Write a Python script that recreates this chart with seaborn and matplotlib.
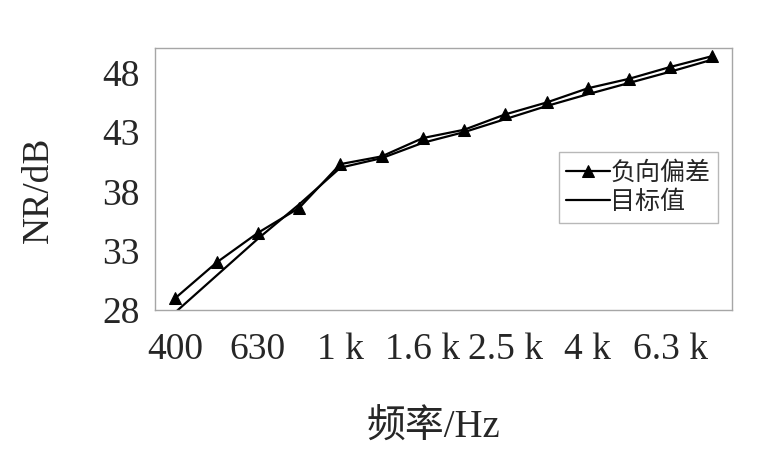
import numpy as np
import pandas as pd
import matplotlib
matplotlib.use('Agg')
import matplotlib.pyplot as plt
import seaborn as sns

# 1/3 octave bands, 400 Hz - 8 kHz
bands = ['400', '500', '630', '800', '1 k', '1.25 k', '1.6 k', '2 k',
         '2.5 k', '3.15 k', '4 k', '5 k', '6.3 k', '8 k']
neg_dev = [29.0, 32.0, 34.5, 36.6, 40.3, 40.95, 42.5, 43.2,
           44.5, 45.5, 46.7, 47.5, 48.5, 49.4]
target = [27.8, 30.9, 34.0, 36.9, 40.0, 40.8, 42.1, 43.0,
          44.1, 45.2, 46.2, 47.15, 48.1, 49.1]
shown_ticks = ['400', '630', '1 k', '1.6 k', '2.5 k', '4 k', '6.3 k']
yticks = [28, 33, 38, 43, 48]

df = pd.DataFrame({
    'band': bands * 2,
    'NR': neg_dev + target,
    'series': ['负向偏差'] * len(bands) + ['目标值'] * len(bands),
})

sns.set_style('white')
plt.rcParams['font.family'] = ['Liberation Serif', 'Noto Sans CJK SC']
plt.rcParams['axes.edgecolor'] = '#a6a6a6'
plt.rcParams['axes.linewidth'] = 1.0

fig = plt.figure(figsize=(7.74, 4.57), dpi=100)
ax = fig.add_axes([0.200, 0.322, 0.746, 0.573])

sns.lineplot(data=df[df.series == '负向偏差'], x='band', y='NR', ax=ax,
             color='black', linewidth=1.6, marker='^', markersize=8,
             markeredgecolor='black', label='负向偏差', sort=False)
sns.lineplot(data=df[df.series == '目标值'], x='band', y='NR', ax=ax,
             color='black', linewidth=1.6, label='目标值', sort=False)

ax.set_xlim(-0.5, 13.5)
ax.set_ylim(28, 50.1)
ax.set_xticks(range(len(bands)))
ax.set_xticklabels([b if b in shown_ticks else '' for b in bands])
ax.set_yticks(yticks)
ax.tick_params(axis='both', direction='in', length=4, color='#a6a6a6',
               labelsize=27)
ax.tick_params(axis='x', pad=16)
ax.tick_params(axis='y', pad=11)

ax.set_xlabel('频率/Hz', fontsize=28)
ax.xaxis.set_label_coords(0.482, -0.382)
ax.set_ylabel('NR/dB', fontsize=27)
ax.yaxis.set_label_coords(-0.171, 0.458)

leg = ax.legend(loc='upper left', bbox_to_anchor=(0.70, 0.603),
                frameon=True, fancybox=False, handlelength=1.75,
                handletextpad=0.0, borderpad=0.3, labelspacing=0.15,
                borderaxespad=0,
                prop={'family': ['Noto Sans CJK SC'], 'size': 18})
leg.get_frame().set_edgecolor('#a6a6a6')
leg.get_frame().set_linewidth(1.0)

fig.savefig('out.png', dpi=100)
